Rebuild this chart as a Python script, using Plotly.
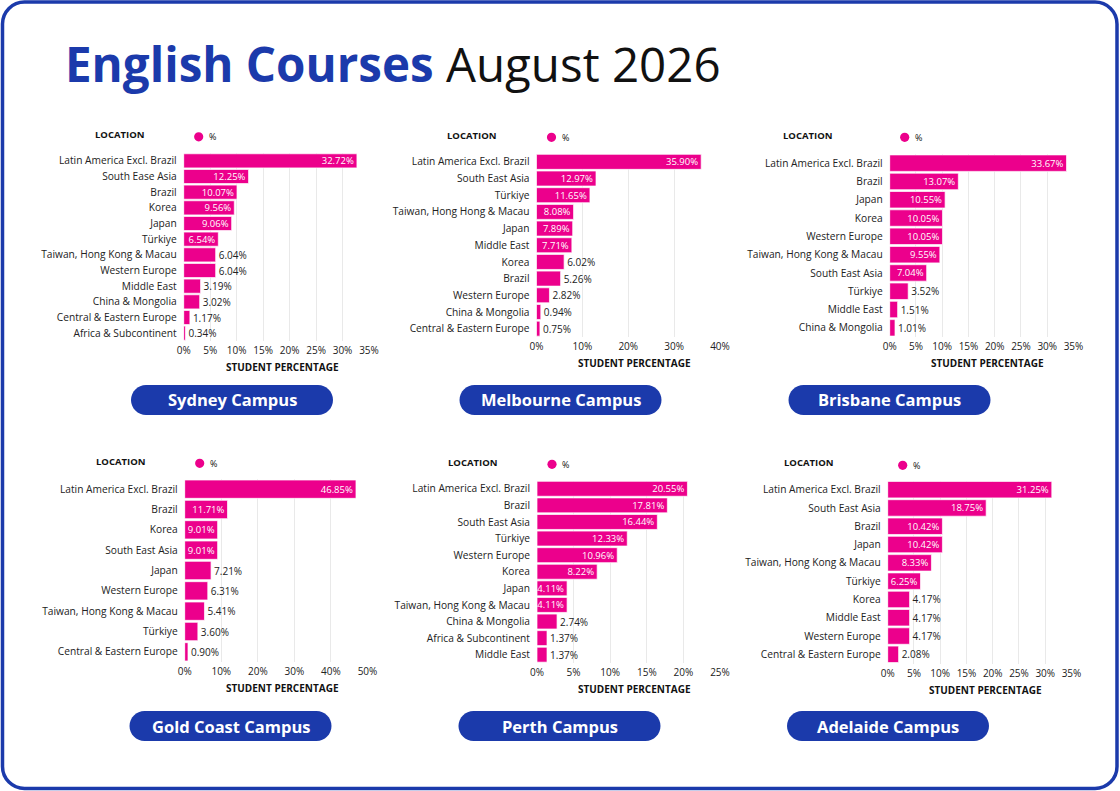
import plotly.graph_objects as go

W, H = 1120, 791
BLUE = "#1b3aab"
PINK = "#ec008c"
TEXT = "#222222"
FONT = "Open Sans"

# ---- data (top to bottom as shown) ----
sydney_locations = [
    "Latin America Excl. Brazil", "South Ease Asia", "Brazil", "Korea", "Japan",
    "Türkiye", "Taiwan, Hong Kong & Macau", "Western Europe", "Middle East",
    "China & Mongolia", "Central & Eastern Europe", "Africa & Subcontinent",
]
sydney_pct = [32.72, 12.25, 10.07, 9.56, 9.06, 6.54, 6.04, 6.04, 3.19, 3.02, 1.17, 0.34]

melbourne_locations = [
    "Latin America Excl. Brazil", "South East Asia", "Türkiye",
    "Taiwan, Hong Hong & Macau", "Japan", "Middle East", "Korea", "Brazil",
    "Western Europe", "China & Mongolia", "Central & Eastern Europe",
]
melbourne_pct = [35.90, 12.97, 11.65, 8.08, 7.89, 7.71, 6.02, 5.26, 2.82, 0.94, 0.75]

brisbane_locations = [
    "Latin America Excl. Brazil", "Brazil", "Japan", "Korea", "Western Europe",
    "Taiwan, Hong Kong & Macau", "South East Asia", "Türkiye", "Middle East",
    "China & Mongolia",
]
brisbane_pct = [33.67, 13.07, 10.55, 10.05, 10.05, 9.55, 7.04, 3.52, 1.51, 1.01]

goldcoast_locations = [
    "Latin America Excl. Brazil", "Brazil", "Korea", "South East Asia", "Japan",
    "Western Europe", "Taiwan, Hong Kong & Macau", "Türkiye",
    "Central & Eastern Europe",
]
goldcoast_pct = [46.85, 11.71, 9.01, 9.01, 7.21, 6.31, 5.41, 3.60, 0.90]

perth_locations = [
    "Latin America Excl. Brazil", "Brazil", "South East Asia", "Türkiye",
    "Western Europe", "Korea", "Japan", "Taiwan, Hong Kong & Macau",
    "China & Mongolia", "Africa & Subcontinent", "Middle East",
]
perth_pct = [20.55, 17.81, 16.44, 12.33, 10.96, 8.22, 4.11, 4.11, 2.74, 1.37, 1.37]

adelaide_locations = [
    "Latin America Excl. Brazil", "South East Asia", "Brazil", "Japan",
    "Taiwan, Hong Kong & Macau", "Türkiye", "Korea", "Middle East",
    "Western Europe", "Central & Eastern Europe",
]
adelaide_pct = [31.25, 18.75, 10.42, 10.42, 8.33, 6.25, 4.17, 4.17, 4.17, 2.08]

campus_names = ["Sydney Campus", "Melbourne Campus", "Brisbane Campus",
                "Gold Coast Campus", "Perth Campus", "Adelaide Campus"]
all_locations = [sydney_locations, melbourne_locations, brisbane_locations,
                 goldcoast_locations, perth_locations, adelaide_locations]
all_pct = [sydney_pct, melbourne_pct, brisbane_pct,
           goldcoast_pct, perth_pct, adelaide_pct]
x_max = [35, 40, 35, 50, 25, 35]
x_step = [5, 10, 5, 10, 5, 5]

# ---- layout, in page pixels ----
# plot box (x0, x1, y0, y1), "LOCATION" label (x, y), pill centre x
panels = [
    dict(box=(183.7, 369.0, 153.0, 341.0), loc=(119.5, 134.5), pill=232.0),
    dict(box=(536.5, 720.0, 153.5, 337.0), loc=(471.3, 135.0), pill=560.5),
    dict(box=(889.7, 1073.5, 154.0, 337.0), loc=(807.0, 135.0), pill=889.5),
    dict(box=(184.7, 367.5, 479.0, 662.0), loc=(120.8, 461.0), pill=230.5),
    dict(box=(537.0, 720.0, 480.5, 663.0), loc=(472.7, 462.0), pill=559.5),
    dict(box=(887.7, 1071.5, 480.5, 663.5), loc=(808.7, 463.0), pill=888.0),
]
pill_y = [400, 400, 400, 726, 726, 726]

# rough glyph widths (px) of the value labels in the original font,
# used to decide whether a label goes inside or outside its bar
GLYPH_W = {"1": 3.5, ".": 2.5, "%": 8.0}


def label_width(s):
    return sum(GLYPH_W.get(c, 5.8) for c in s)


def px(x):
    return x / W


def py(y):
    return 1 - y / H


def rounded_path(x0, y0, x1, y1, r):
    """Rounded rectangle as an SVG path in paper coords."""
    k = 0.5523 * r
    pts = [
        ("M", [(x0 + r, y0)]),
        ("L", [(x1 - r, y0)]),
        ("C", [(x1 - r + k, y0), (x1, y0 + r - k), (x1, y0 + r)]),
        ("L", [(x1, y1 - r)]),
        ("C", [(x1, y1 - r + k), (x1 - r + k, y1), (x1 - r, y1)]),
        ("L", [(x0 + r, y1)]),
        ("C", [(x0 + r - k, y1), (x0, y1 - r + k), (x0, y1 - r)]),
        ("L", [(x0, y0 + r)]),
        ("C", [(x0, y0 + r - k), (x0 + r - k, y0), (x0 + r, y0)]),
    ]
    out = ""
    for cmd, coords in pts:
        out += cmd + " ".join(f"{px(a):.5f},{py(b):.5f}" for a, b in coords) + " "
    return out + "Z"


fig = go.Figure()
shapes = []
annotations = []

for i, (name, locs, vals) in enumerate(zip(campus_names, all_locations, all_pct)):
    n = "" if i == 0 else str(i + 1)
    p = panels[i]
    bx0, bx1, by0, by1 = p["box"]
    scale = (bx1 - bx0) / x_max[i]

    positions = []
    for v in vals:
        fits = v * scale - label_width(f"{v:.2f}%") >= 4.4
        positions.append("inside" if fits else "outside")

    fig.add_trace(go.Bar(
        x=vals, y=locs, orientation="h",
        xaxis="x" + n, yaxis="y" + n,
        marker=dict(color=PINK, line=dict(color="rgba(255,255,255,0.7)", width=1)),
        texttemplate="%{x:.2f}%", textposition=positions,
        insidetextanchor="end", constraintext="none",
        insidetextfont=dict(color="white", size=9.5, family=FONT),
        outsidetextfont=dict(color=TEXT, size=10, family=FONT),
        cliponaxis=False, showlegend=False, hoverinfo="x+y",
    ))

    fig.layout["xaxis" + n] = dict(
        domain=[px(bx0), px(bx1)], anchor="y" + n, automargin=False,
        range=[0, x_max[i]], dtick=x_step[i], ticksuffix="%",
        showgrid=True, gridcolor="#e9e9e9", gridwidth=1,
        zeroline=False, showline=False, ticks="",
        tickfont=dict(size=10, color=TEXT, family=FONT),
        ticklabelstandoff=2, fixedrange=True,
    )
    fig.layout["yaxis" + n] = dict(
        domain=[py(by1), py(by0)], anchor="x" + n, automargin=False,
        autorange="reversed", showgrid=False, zeroline=False, showline=False,
        ticks="", tickfont=dict(size=10.2, color=TEXT, family=FONT),
        ticklabelstandoff=6, fixedrange=True,
    )

    # header: LOCATION + legend dot
    lx, ly = p["loc"]
    annotations.append(dict(
        x=px(lx), y=py(ly), xref="paper", yref="paper", showarrow=False,
        text="<b>LOCATION</b>", font=dict(size=9.5, color="#111", family=FONT),
        xanchor="center", yanchor="middle",
    ))
    cx, cy, r = bx0 + 15, ly + 2.3, 4.6
    shapes.append(dict(
        type="circle", xref="paper", yref="paper",
        x0=px(cx - r), x1=px(cx + r), y0=py(cy + r), y1=py(cy - r),
        fillcolor=PINK, line=dict(width=0),
    ))
    annotations.append(dict(
        x=px(cx + 8), y=py(cy), xref="paper", yref="paper", showarrow=False,
        text="%", font=dict(size=9, color="#111", family=FONT),
        xanchor="left", yanchor="middle",
    ))

    # axis title
    annotations.append(dict(
        x=px((bx0 + bx1) / 2 + 6), y=py(by1 + 26), xref="paper", yref="paper",
        showarrow=False, text="<b>STUDENT PERCENTAGE</b>",
        font=dict(size=10, color="#111", family=FONT),
        xanchor="center", yanchor="middle",
    ))

    # campus pill
    pcx, pcy = p["pill"], pill_y[i]
    shapes.append(dict(
        type="path", xref="paper", yref="paper",
        path=rounded_path(pcx - 101, pcy - 15, pcx + 101, pcy + 15, 15),
        fillcolor=BLUE, line=dict(width=0),
    ))
    annotations.append(dict(
        x=px(pcx), y=py(pcy), xref="paper", yref="paper", showarrow=False,
        text=f"<b>{name}</b>", font=dict(size=16.5, color="white", family=FONT),
        xanchor="center", yanchor="middle",
    ))

# outer frame
shapes.append(dict(
    type="path", xref="paper", yref="paper",
    path=rounded_path(2.5, 2, 1117, 788.5, 22),
    line=dict(color=BLUE, width=3.5), fillcolor="rgba(0,0,0,0)",
))

# title
annotations.append(dict(
    x=px(63), y=py(63), xref="paper", yref="paper", showarrow=False,
    text=f"<b><span style='color:{BLUE}'>English Courses</span></b> August 2026",
    font=dict(size=47.5, color="#111", family=FONT),
    xanchor="left", yanchor="middle",
))

fig.update_layout(
    width=W, height=H, autosize=False,
    margin=dict(l=0, r=0, t=0, b=0, pad=0, autoexpand=False),
    paper_bgcolor="white", plot_bgcolor="white",
    bargap=0.1,
    shapes=shapes, annotations=annotations,
    font=dict(family=FONT, color=TEXT),
)

fig.write_html(
    "out.html",
    config={"displayModeBar": False, "responsive": False},
    post_script=(
        "document.body.style.margin='0';"
        "document.body.style.overflow='hidden';"
    ),
)
